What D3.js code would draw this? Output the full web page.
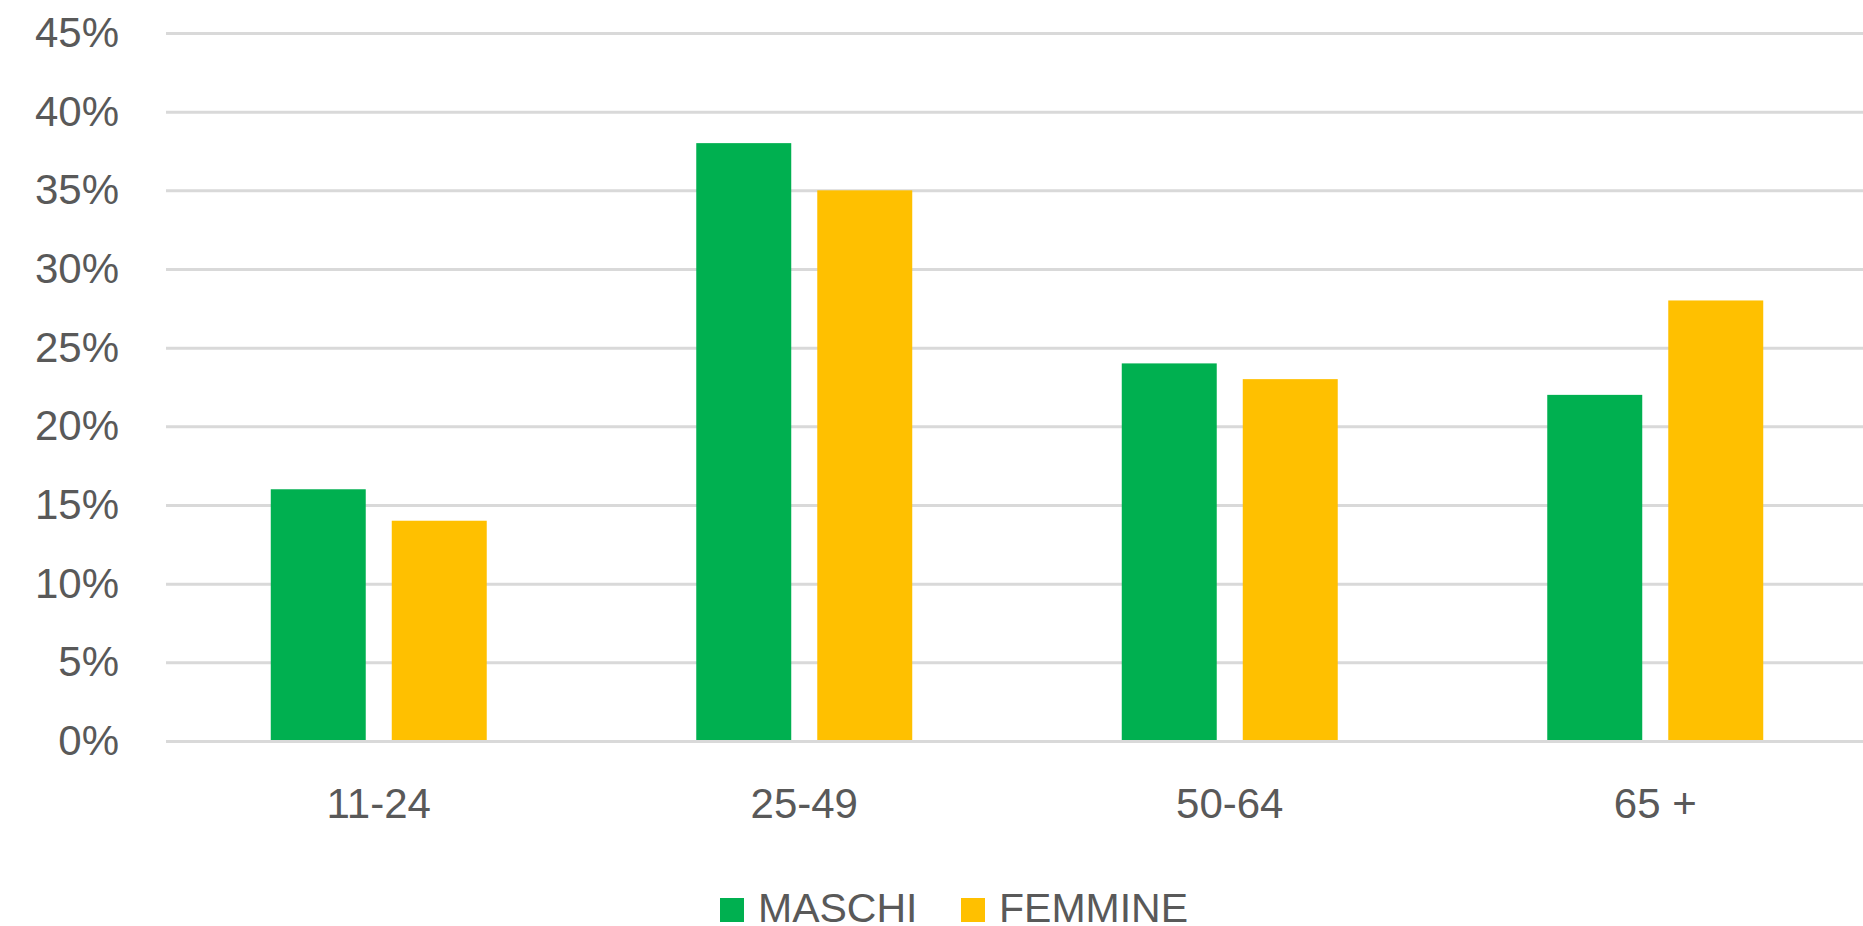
<!DOCTYPE html>
<html>
<head>
<meta charset="utf-8">
<title>Maschi / Femmine per età</title>
<script src="https://cdn.jsdelivr.net/npm/d3@7"></script>
<style>
  body { margin: 0; background: #fff; }
  text { font-family: "Liberation Sans", Arial, sans-serif; fill: #595959; }
  .grid line { stroke: #d9d9d9; stroke-width: 3px; }
  .grid path, .xaxis path { display: none; }
  .tick text { font-size: 42px; fill: #595959; }
  .legend text { font-size: 41px; }
</style>
</head>
<body>
<svg id="chart" width="1863" height="926"></svg>
<script>
  // data
  var categories = ["11-24", "25-49", "50-64", "65 +"];
  var seriesNames = ["MASCHI", "FEMMINE"];
  var maschi = [16, 38, 24, 22];
  var femmine = [14, 35, 23, 28];
  var yTicks = [0, 5, 10, 15, 20, 25, 30, 35, 40, 45];
  var colors = ["#00b050", "#ffc000"];

  var svg = d3.select("#chart");
  var plotLeft = 166, plotRight = 1868, plotTop = 33, plotBottom = 741;

  var x0 = d3.scaleBand().domain(categories).range([plotLeft, plotRight])
    .paddingInner(0.4924).paddingOuter(0.2462);
  var x1 = d3.scaleBand().domain(seriesNames).range([0, x0.bandwidth()])
    .paddingInner(0.215);
  var y = d3.scaleLinear().domain([0, 45]).range([plotBottom, plotTop]);

  // y gridlines + labels
  svg.append("g")
    .attr("class", "grid")
    .attr("transform", "translate(" + plotLeft + ",0)")
    .call(d3.axisLeft(y).tickValues(yTicks).tickSize(-(1863 - plotLeft))
      .tickPadding(47).tickFormat(function(d) { return d + "%"; }));

  // x labels
  svg.append("g")
    .attr("class", "xaxis")
    .attr("transform", "translate(0," + plotBottom + ")")
    .call(d3.axisBottom(x0).tickSize(0).tickPadding(47));

  var rows = categories.map(function(c, i) {
    return { cat: c, values: [maschi[i], femmine[i]] };
  });

  var groups = svg.append("g").selectAll("g")
    .data(rows)
    .enter().append("g")
    .attr("transform", function(d) { return "translate(" + x0(d.cat) + ",0)"; });

  groups.selectAll("rect")
    .data(function(d) {
      return d.values.map(function(v, j) { return { name: seriesNames[j], value: v, j: j }; });
    })
    .enter().append("rect")
    .attr("x", function(d) { return x1(d.name); })
    .attr("width", x1.bandwidth())
    .attr("y", function(d) { return y(d.value); })
    .attr("height", function(d) { return plotBottom - 1 - y(d.value); })
    .attr("fill", function(d) { return colors[d.j]; });

  // legend
  var legendX = [720, 961];
  var legend = svg.append("g").attr("class", "legend")
    .selectAll("g").data(seriesNames).enter().append("g")
    .attr("transform", function(d, i) { return "translate(" + legendX[i] + ",898)"; });
  legend.append("rect")
    .attr("width", 24).attr("height", 24)
    .attr("fill", function(d, i) { return colors[i]; });
  legend.append("text")
    .attr("x", 38).attr("y", 24)
    .text(function(d) { return d; });
</script>
</body>
</html>
